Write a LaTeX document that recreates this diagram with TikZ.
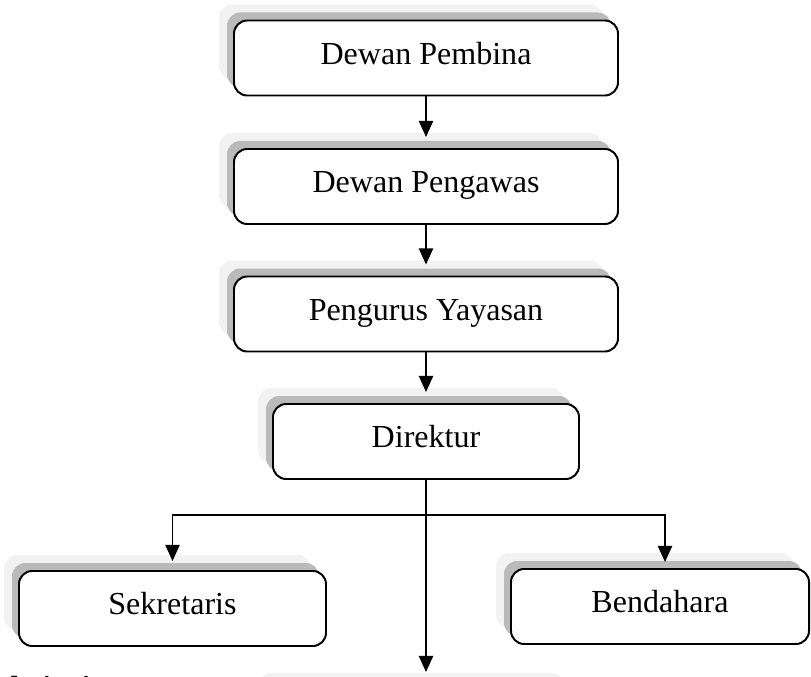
\documentclass[tikz,border=0pt]{standalone}
\usepackage{fontspec}
\setmainfont{Liberation Serif}
\usetikzlibrary{arrows.meta,shadows}
\begin{document}
\begin{tikzpicture}[box/.style={draw, line width=1.4pt, rounded corners=0.33cm, fill=white, minimum height=1.875cm, inner sep=0pt, text height=16pt, text depth=6.8pt, font=\fontsize{22.8}{27}\selectfont, general shadow={fill=black!5, shadow xshift=-0.375cm, shadow yshift=0.4cm}, general shadow={fill=black!27, shadow xshift=-0.175cm, shadow yshift=0.2cm}}, link/.style={line width=1.4pt, -{Triangle[width=10pt,length=11.4pt]}, shorten >=0.275cm}]
    \useasboundingbox (0,0) rectangle (20.275,-16.925);
    \node[box, minimum width=9.6cm] (pembina) at (10.65,-1.45) {Dewan Pembina};
    \node[box, minimum width=9.6cm] (pengawas) at (10.65,-4.6625) {Dewan Pengawas};
    \node[box, minimum width=9.6cm] (pengurus) at (10.65,-7.85) {Pengurus Yayasan};
    \node[box, minimum width=7.65cm] (direktur) at (10.65,-11.0375) {Direktur};
    \node[box, minimum width=7.675cm] (sekretaris) at (4.3125,-15.2125) {Sekretaris};
    \node[box, minimum width=7.45cm] (bendahara) at (16.5,-15.1625) {Bendahara};
    \node[box, minimum width=7.65cm] (bawah) at (10.65,-18.1625) {};
    \node[anchor=base west, inner sep=0pt, font=\fontsize{22.8}{27}\selectfont\bfseries] (judul) at (-0.995,-17.45) {Deskripsi Data};
    \coordinate (cabang) at ([yshift=-0.875cm]direktur.south);
    \draw[link] (pembina) -- (pengawas);
    \draw[link] (pengawas) -- (pengurus);
    \draw[link] (pengurus) -- (direktur);
    \draw[line width=1.4pt] (direktur.south) -- (cabang);
    \draw[link, shorten >=0.225cm] (cabang) -| (sekretaris.north);
    \draw[link, shorten >=0.15cm] (cabang) -| ([xshift=0.125cm]bendahara.north);
    \draw[link, shorten >=0.4cm] (direktur.south) -- (bawah.north);
  \end{tikzpicture}
\end{document}
